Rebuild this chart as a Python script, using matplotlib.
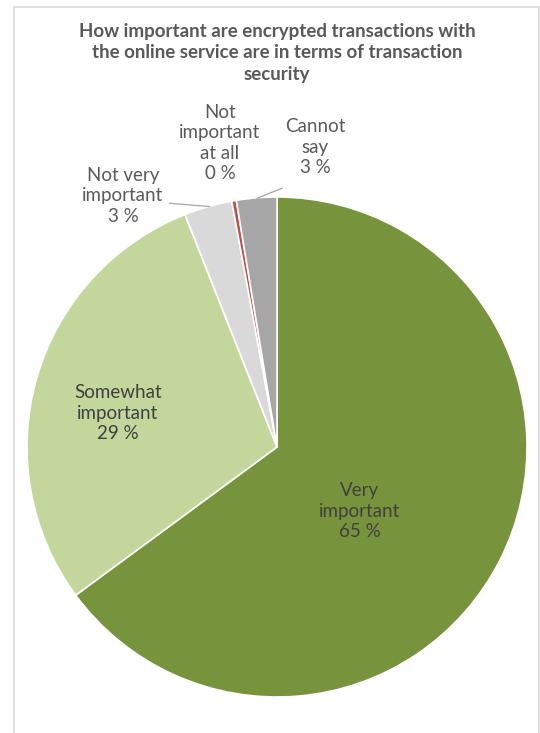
import numpy as np
import matplotlib
matplotlib.use("Agg")
import matplotlib.pyplot as plt
from matplotlib.patches import Rectangle

# Survey answers (share of respondents, %)
categories = ["Very\nimportant", "Somewhat\nimportant", "Not very\nimportant",
              "Not\nimportant\nat all", "Cannot\nsay"]
shares = [64.9, 29.1, 3.1, 0.3, 2.6]
colors = ["#77933C", "#C3D69B", "#D9D9D9", "#C0504D", "#A6A6A6"]
title = ("How important are encrypted transactions with\n"
         "the online service are in terms of transaction\nsecurity")

plt.rcParams["font.family"] = ["Lato", "DejaVu Sans"]

W, H = 540, 733
fig = plt.figure(figsize=(W / 100, H / 100), dpi=100)

# light chart-area frame
fig.add_artist(Rectangle((14 / W, -0.01), (W - 15) / W, 1 - 7 / H + 0.01,
                         transform=fig.transFigure, fill=False,
                         edgecolor="#D9D9D9", linewidth=1.2))

cx, cy, r = 277, 447, 250
ax = fig.add_axes([(cx - r) / W, (H - cy - r) / H, 2 * r / W, 2 * r / H])
wedges, _ = ax.pie(shares, colors=colors, startangle=90, counterclock=False,
                   radius=1.0, wedgeprops=dict(edgecolor="white", linewidth=1.2))
ax.set_xlim(-1, 1)
ax.set_ylim(-1, 1)
ax.set_aspect("equal")
ax.axis("off")

# label placement (data units of the pie axes)
label_pos = [(0.332, -0.256), (-0.636, 0.136), (-0.616, 1.004),
             (-0.228, 1.216), (0.152, 1.20)]
inside = [True, True, False, False, False]
for name, val, (lx, ly), ins in zip(categories, shares, label_pos, inside):
    ax.text(lx, ly, f"{name}\n{round(val):.0f} %", ha="center", va="center",
            fontsize=13.5, color="#404040" if ins else "#595959",
            linespacing=1.22, clip_on=False)

# leader lines for the small outside slices
leaders = [((-0.43, 0.975), (-0.27, 0.962)),
           ((-0.08, 0.995), (0.02, 1.035))]
for (x0, y0), (x1, y1) in leaders:
    ax.plot([x0, x1], [y0, y1], color="#A6A6A6", lw=0.9, clip_on=False)

fig.text(277 / W, 1 - 53 / H, title, ha="center", va="center", fontsize=13.5,
         fontweight="bold", color="#595959", linespacing=1.33)

fig.savefig("out.png", dpi=100)
